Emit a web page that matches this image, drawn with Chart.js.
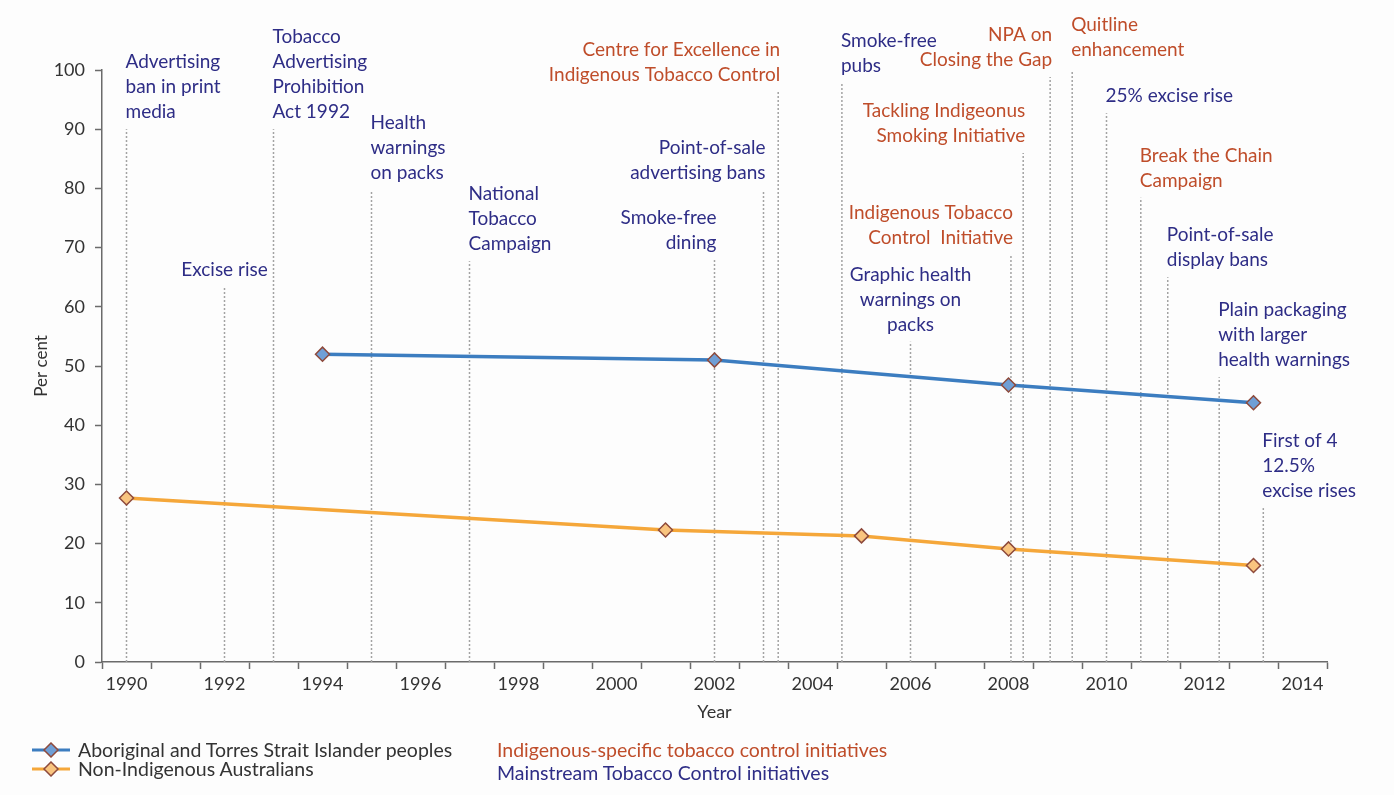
<!DOCTYPE html>
<html>
<head>
<meta charset="utf-8">
<title>Smoking prevalence and tobacco control initiatives</title>
<script src="https://cdn.jsdelivr.net/npm/chart.js@4.4.1/dist/chart.umd.min.js"></script>
<style>
  html, body { margin: 0; padding: 0; background: #fdfdfd; }
  #wrap { position: relative; width: 1394px; height: 795px; }
  #legend { position: absolute; left: 0; top: 738px; width: 1394px; font-family: Lato, sans-serif; font-size: 19.5px; }
  .item { position: absolute; white-space: nowrap; line-height: 22px; }
  .item svg { position: absolute; left: -46px; top: 3px; }
</style>
</head>
<body>
<div id="wrap">
  <canvas id="grafica" width="1394" height="795"></canvas>
  <div id="legend">
    <div class="item" style="left:78px; top:1px; color:#333;">
      <svg width="40" height="16"><line x1="0" y1="8" x2="38" y2="8" stroke="#3c7dc0" stroke-width="3"/><polygon points="19,1 26,8 19,15 12,8" fill="#6f9fd6" stroke="#8e4a3c" stroke-width="1.5"/></svg>
      Aboriginal and Torres Strait Islander peoples</div>
    <div class="item" style="left:78px; top:20px; color:#333;">
      <svg width="40" height="16"><line x1="0" y1="8" x2="38" y2="8" stroke="#f5a73a" stroke-width="3"/><polygon points="19,1 26,8 19,15 12,8" fill="#f9c47f" stroke="#8e4a3c" stroke-width="1.5"/></svg>
      Non-Indigenous Australians</div>
    <div class="item" style="left:497px; top:1px; color:#bf4d2a;">Indigenous-specific tobacco control initiatives</div>
    <div class="item" style="left:497px; top:24px; color:#2e2d86;">Mainstream Tobacco Control initiatives</div>
  </div>
</div>
<script>
// Series (per cent)
const aborigYears = [1994, 2002, 2008, 2013];
const aborigValues = [52, 51, 46.8, 43.8];
const nonIndigYears = [1990, 2001, 2005, 2008, 2013];
const nonIndigValues = [27.7, 22.3, 21.3, 19.1, 16.3];

// Axis ticks
const yearLabels = [1990, 1992, 1994, 1996, 1998, 2000, 2002, 2004, 2006, 2008, 2010, 2012, 2014];
const percentTicks = [0, 10, 20, 30, 40, 50, 60, 70, 80, 90, 100];

// Initiatives: year of the dotted line, value where the line stops, text
const eventYears = [1990.0, 1992.0, 1993.0, 1995.0, 1997.0, 2002.0, 2003.0, 2003.3, 2004.6, 2006.0,
                    2008.05, 2008.3, 2008.85, 2009.3, 2010.0, 2010.7, 2011.25, 2012.3, 2013.2];
const eventTops = [90, 63.3, 90, 79.7, 67.7, 67.9, 79.7, 96.3, 97.8, 54.1,
                   68.8, 86, 98.8, 100.5, 92.7, 78.4, 65, 48.1, 26];
const eventLabels = [
  ['Advertising', 'ban in print', 'media'],
  ['Excise rise'],
  ['Tobacco', 'Advertising', 'Prohibition', 'Act 1992'],
  ['Health', 'warnings', 'on packs'],
  ['National', 'Tobacco', 'Campaign'],
  ['Smoke-free', 'dining'],
  ['Point-of-sale', 'advertising bans'],
  ['Centre for Excellence in', 'Indigenous Tobacco Control'],
  ['Smoke-free', 'pubs'],
  ['Graphic health', 'warnings on', 'packs'],
  ['Indigenous Tobacco', 'Control  Initiative'],
  ['Tackling Indigeonus', 'Smoking Initiative'],
  ['NPA on', 'Closing the Gap'],
  ['Quitline', 'enhancement'],
  ['25% excise rise'],
  ['Break the Chain', 'Campaign'],
  ['Point-of-sale', 'display bans'],
  ['Plain packaging', 'with larger', 'health warnings'],
  ['First of 4', '12.5%', 'excise rises']
];
const eventKinds = ['main', 'main', 'main', 'main', 'main', 'main', 'main', 'indig', 'main', 'main',
                    'indig', 'indig', 'indig', 'indig', 'main', 'indig', 'main', 'main', 'main'];
const eventAlign = ['left', 'center', 'left', 'left', 'left', 'right', 'right', 'right', 'left', 'center',
                    'right', 'right', 'right', 'left', 'left', 'left', 'left', 'left', 'left'];

const colorIndig = '#bf4d2a';
const colorMain = '#2e2d86';
const axisColor = '#6b6b6b';
const fuente = 'Lato, sans-serif';

// dotted vertical lines, one dataset each
const eventDatasets = eventYears.map((yr, i) => ({
  label: 'evt' + i,
  data: [{ x: yr, y: 0 }, { x: yr, y: eventTops[i] }],
  borderColor: '#a3a3a3',
  borderWidth: 1.5,
  borderDash: [2, 2],
  pointRadius: 0,
  fill: false,
  order: 10
}));

// textos de las iniciativas
const eventText = {
  id: 'eventText',
  afterDatasetsDraw(chart) {
    const { ctx, scales: { x, y } } = chart;
    ctx.save();
    ctx.font = '19px ' + fuente;
    ctx.textBaseline = 'middle';
    eventYears.forEach((yr, i) => {
      const px = x.getPixelForValue(yr);
      const lines = eventLabels[i];
      const baseY = y.getPixelForValue(eventTops[i]) - 17;
      const align = eventAlign[i];
      const dx = align === 'left' ? -1 : (align === 'right' ? 2 : 0);
      ctx.fillStyle = eventKinds[i] === 'indig' ? colorIndig : colorMain;
      ctx.textAlign = align;
      lines.forEach((t, k) => {
        ctx.fillText(t, px + dx, baseY - (lines.length - 1 - k) * 25);
      });
    });
    ctx.restore();
  }
};

const halfYears = [];
for (let v = 1989.5; v <= 2014.5; v += 1) halfYears.push(v);

const ctx = document.getElementById('grafica').getContext('2d');
new Chart(ctx, {
  type: 'line',
  data: {
    datasets: [
      {
        label: 'Aboriginal and Torres Strait Islander peoples',
        data: aborigYears.map((yr, i) => ({ x: yr, y: aborigValues[i] })),
        borderColor: '#3c7dc0',
        borderWidth: 3.5,
        pointStyle: 'rectRot',
        pointRadius: 7,
        pointBackgroundColor: '#6f9fd6',
        pointBorderColor: '#8e4a3c',
        pointBorderWidth: 1.5,
        tension: 0,
        order: 0
      },
      {
        label: 'Non-Indigenous Australians',
        data: nonIndigYears.map((yr, i) => ({ x: yr, y: nonIndigValues[i] })),
        borderColor: '#f5a73a',
        borderWidth: 3.5,
        pointStyle: 'rectRot',
        pointRadius: 7,
        pointBackgroundColor: '#f9c47f',
        pointBorderColor: '#8e4a3c',
        pointBorderWidth: 1.5,
        tension: 0,
        order: 1
      },
      ...eventDatasets
    ]
  },
  options: {
    responsive: false,
    animation: false,
    layout: { padding: { top: 70, right: 67, bottom: 53, left: 0 } },
    plugins: {
      legend: { display: false },
      tooltip: { enabled: false }
    },
    scales: {
      x: {
        type: 'linear',
        min: 1989.5,
        max: 2014.5,
        afterBuildTicks: axis => {
          axis.ticks = halfYears.concat(yearLabels).sort((a, b) => a - b).map(v => ({ value: v }));
        },
        afterFit: axis => { axis.height = 80; },
        grid: {
          drawOnChartArea: false,
          tickLength: 7,
          tickWidth: 1.5,
          tickColor: c => (c.tick && c.tick.value % 1 !== 0) ? axisColor : 'rgba(0,0,0,0)'
        },
        border: { color: axisColor, width: 1.5 },
        ticks: {
          autoSkip: false,
          maxRotation: 0,
          padding: 4,
          color: '#333',
          font: { family: fuente, size: 18 },
          callback: v => (yearLabels.includes(v) ? String(v) : '')
        },
        title: {
          display: true,
          text: 'Year',
          color: '#333',
          font: { family: fuente, size: 18 },
          padding: { top: 0, bottom: 19 }
        }
      },
      y: {
        min: 0,
        max: 100,
        afterBuildTicks: axis => { axis.ticks = percentTicks.map(v => ({ value: v })); },
        afterFit: axis => { axis.width = 102; },
        grid: {
          drawOnChartArea: false,
          tickLength: 7,
          tickWidth: 1.5,
          tickColor: axisColor
        },
        border: { color: axisColor, width: 1.5 },
        ticks: {
          padding: 10,
          color: '#333',
          font: { family: fuente, size: 18 }
        },
        title: {
          display: true,
          text: 'Per cent',
          color: '#333',
          font: { family: fuente, size: 17 },
          padding: { top: 31, bottom: 0 }
        }
      }
    }
  },
  plugins: [eventText]
});
</script>
</body>
</html>
